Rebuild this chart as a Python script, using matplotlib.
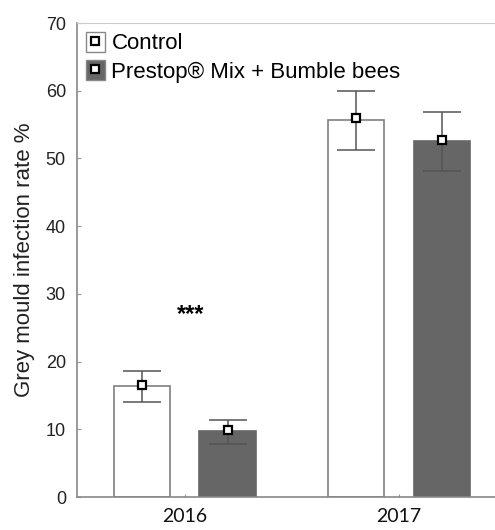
import matplotlib
matplotlib.use("Agg")
import matplotlib.pyplot as plt
import numpy as np
from matplotlib.lines import Line2D
from matplotlib.patches import Patch

years = ["2016", "2017"]
series = ["Control", "Prestop® Mix + Bumble bees"]
bar_tops = {"Control": [16.4, 55.7], "Prestop® Mix + Bumble bees": [9.7, 52.6]}
means = {"Control": [16.5, 55.9], "Prestop® Mix + Bumble bees": [9.85, 52.7]}
err_hi = {"Control": [18.65, 60.0], "Prestop® Mix + Bumble bees": [11.3, 56.9]}
err_lo = {"Control": [14.0, 51.3], "Prestop® Mix + Bumble bees": [7.9, 48.2]}
colors = {"Control": "white", "Prestop® Mix + Bumble bees": "#666666"}
yticks = [0, 10, 20, 30, 40, 50, 60, 70]

plt.rcParams['font.family'] = ['Liberation Sans', 'DejaVu Sans']

fig = plt.figure(figsize=(4.95, 5.3), dpi=100)
ax = fig.add_axes([77/495, 1 - 497/530, 1 - 77/495 + 0.01, (497 - 23)/530])

x = np.arange(len(years))
offsets = [-0.2, 0.2]
width = 0.262
edge = "#7f7f7f"
for s, off in zip(series, offsets):
    xs = x + off
    ax.bar(xs, bar_tops[s], width=width, color=colors[s],
           edgecolor=edge if s == "Control" else "#666666", linewidth=1.2, zorder=2)
    lo = np.array(means[s]) - np.array(err_lo[s])
    hi = np.array(err_hi[s]) - np.array(means[s])
    ax.errorbar(xs, means[s], yerr=[lo, hi], fmt='none', ecolor="#555555",
                elinewidth=1.1, capsize=14, capthick=1.1, zorder=3)
    ax.plot(xs, means[s], linestyle='none', marker='s', markersize=6,
            markerfacecolor='white', markeredgecolor='black', markeredgewidth=1.6, zorder=4)

ax.text(0.03, 26.9, "***", ha='center', va='center', fontsize=17, fontweight='bold')

ax.set_ylim(0, 70)
ax.set_xlim(-0.502, 1.47)
ax.set_yticks(yticks)
ax.set_yticklabels([str(v) for v in yticks], fontsize=13, color="#222222")
ax.set_xticks(x)
ax.set_xticklabels(years, fontsize=14, family=['Lato', 'DejaVu Sans'], color="#111111")
ax.tick_params(axis='y', length=3, direction='in', width=0.8, color="#999999", pad=8)
ax.tick_params(axis='x', length=2, direction='in', width=0.8, color="#999999", pad=8)
ax.set_ylabel("Grey mould infection rate %", fontsize=16, color="#222222")
ax.yaxis.set_label_coords(-0.099, 0.5)

for sp in ['left', 'bottom']:
    ax.spines[sp].set_color("#888888")
    ax.spines[sp].set_linewidth(1.2)
ax.spines['top'].set_color("#cccccc")
ax.spines['top'].set_linewidth(0.8)
ax.spines['right'].set_visible(False)

handles = []
for s in series:
    handles.append((Patch(facecolor=colors[s], edgecolor="#888888", linewidth=1.0),
                    Line2D([], [], linestyle='none', marker='s', markersize=6,
                           markerfacecolor='white', markeredgecolor='black', markeredgewidth=1.6)))
leg = ax.legend(handles, series, loc='upper left', bbox_to_anchor=(0.0, 1.0),
                frameon=False, fontsize=16, handlelength=0.85, handleheight=1.0,
                handletextpad=0.3, labelspacing=0.25, borderaxespad=0.3, borderpad=0.1)

fig.savefig("out.png", dpi=100)
